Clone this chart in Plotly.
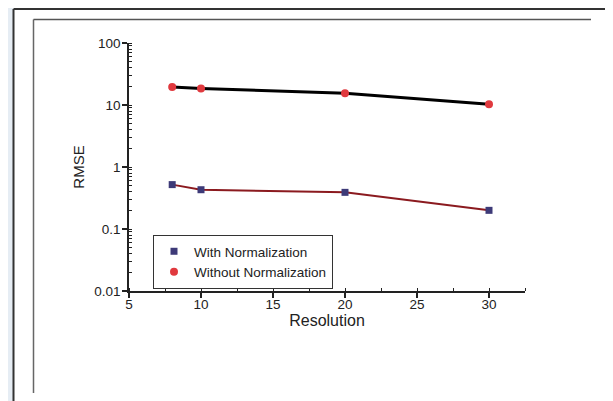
import plotly.graph_objects as go

resolution = [8, 10, 20, 30]
rmse_with_norm = [0.52, 0.43, 0.39, 0.20]
rmse_without_norm = [19.5, 18.5, 15.5, 10.3]
x_ticks = [5, 10, 15, 20, 25, 30]
y_ticks = [0.01, 0.1, 1, 10, 100]
y_tick_labels = ["0.01", "0.1", "1", "10", "100"]

W, H = 613, 401
OFF = 8  # page body margin offset
L, R, T, B = 121, 96, 35, 118
pw, ph = W - L - R, H - T - B


def px(x):
    """window pixel x -> paper fraction"""
    return (x - OFF - L) / pw


def py(y):
    """window pixel y -> paper fraction"""
    return (H - B - (y - OFF)) / ph


FONT = "Liberation Sans, Arial, sans-serif"

fig = go.Figure()

# lines (no legend)
fig.add_trace(go.Scatter(x=resolution, y=rmse_without_norm, mode="lines",
                         line=dict(color="#000000", width=3), showlegend=False,
                         hoverinfo="skip"))
fig.add_trace(go.Scatter(x=resolution, y=rmse_with_norm, mode="lines",
                         line=dict(color="#8b1a1f", width=2), showlegend=False,
                         hoverinfo="skip"))
# markers (legend)
fig.add_trace(go.Scatter(x=resolution, y=rmse_with_norm, mode="markers",
                         name="With Normalization",
                         marker=dict(symbol="square", size=7, color="#3d3a78",
                                     line=dict(width=0))))
fig.add_trace(go.Scatter(x=resolution, y=rmse_without_norm, mode="markers",
                         name="Without Normalization",
                         marker=dict(symbol="circle", size=8, color="#e0393e",
                                     line=dict(width=0))))

shapes = [
    # faint watermark strip at left
    dict(type="rect", xref="paper", yref="paper", x0=px(0), x1=px(13), y0=py(405), y1=py(0),
         fillcolor="#e6edf4", line=dict(width=0), layer="below"),
    # outer frame
    dict(type="line", xref="paper", yref="paper", x0=px(13.5), x1=px(13.5), y0=py(9), y1=py(405),
         line=dict(color="#333333", width=2)),
    dict(type="line", xref="paper", yref="paper", x0=px(13.5), x1=px(609), y0=py(9), y1=py(9),
         line=dict(color="#333333", width=2)),
    dict(type="line", xref="paper", yref="paper", x0=px(609), x1=px(609), y0=py(9), y1=py(405),
         line=dict(color="#333333", width=2)),
    # inner frame
    dict(type="line", xref="paper", yref="paper", x0=px(33.5), x1=px(33.5), y0=py(19.5), y1=py(393),
         line=dict(color="#666666", width=1.5)),
    dict(type="line", xref="paper", yref="paper", x0=px(33.5), x1=px(591), y0=py(19.5), y1=py(19.5),
         line=dict(color="#555555", width=1.5)),
]

fig.update_layout(
    width=W, height=H,
    margin=dict(l=L, r=R, t=T, b=B, pad=0, autoexpand=False),
    paper_bgcolor="white", plot_bgcolor="white",
    font=dict(family=FONT, size=13, color="#222222"),
    showlegend=True,
    legend=dict(x=px(153), y=py(262), xanchor="left", yanchor="middle",
                bordercolor="#333333", borderwidth=1, bgcolor="white",
                font=dict(size=13.5, color="#222222"), tracegroupgap=0,
                itemwidth=30),
    shapes=shapes,
)

fig.update_xaxes(
    range=[5, 32.5], tickmode="array", tickvals=x_ticks,
    ticks="outside", ticklen=5, tickwidth=1.5, tickcolor="#222222",
    showline=True, linecolor="#222222", linewidth=1.5,
    showgrid=False, zeroline=False,
    minor=dict(dtick=2.5, ticks="inside", ticklen=3, tickwidth=1.2, tickcolor="#222222", showgrid=False),
    title=dict(text="Resolution", font=dict(size=16, color="#222222"), standoff=2),
    tickfont=dict(size=13.5), ticklabelstandoff=-5,
)
fig.update_yaxes(
    type="log", range=[-2, 2], tickmode="array", tickvals=y_ticks, ticktext=y_tick_labels,
    ticks="outside", ticklen=5, tickwidth=1.5, tickcolor="#222222",
    showline=True, linecolor="#222222", linewidth=1.5,
    showgrid=False, zeroline=False,
    minor=dict(dtick="D1", ticks="inside", ticklen=3, tickwidth=1, tickcolor="#222222", showgrid=False),
    title=dict(text="RMSE", font=dict(size=15, color="#222222"), standoff=6),
    tickfont=dict(size=13.5), ticklabelstandoff=-1,
)

fig.write_html("out.html")
